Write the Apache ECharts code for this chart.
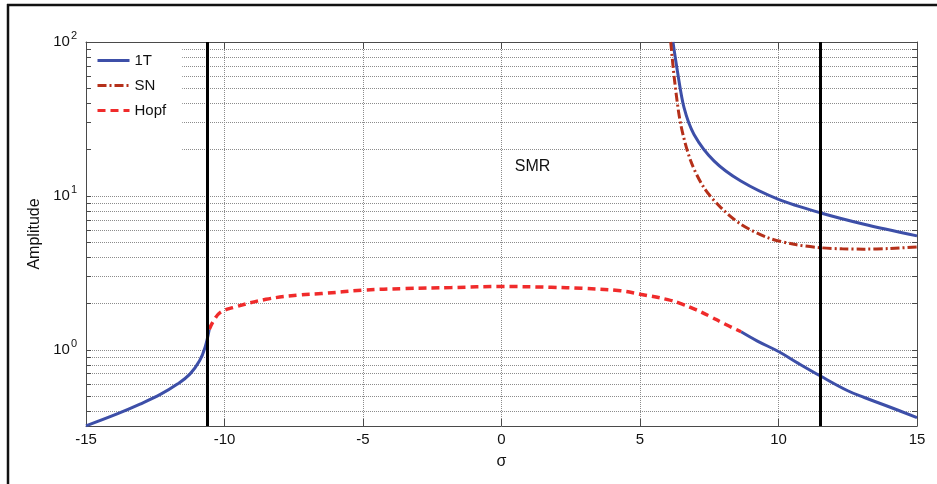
<!DOCTYPE html>
<html><head><meta charset="utf-8">
<script src="https://cdn.jsdelivr.net/npm/echarts@6.0.0/dist/echarts.min.js"></script>
<style>html,body{margin:0;padding:0;background:#fff}#c{width:937px;height:484px}</style>
</head><body><div id="c"></div>
<script>
// ---- data ----
const xMin = -15, xMax = 15, xStep = 5;
const yMin = 0.32, yMax = 100;
const yLabelValues = [1, 10, 100];
const yTickValues = [0.4,0.5,0.6,0.7,0.8,0.9,1,2,3,4,5,6,7,8,9,10,20,30,40,50,60,70,80,90,100];

// 1T (stable single-tone branches)
const t1LeftX  = [-15, -13.9, -13.05, -12.3, -11.7, -11.25, -10.9, -10.7, -10.55];
const t1LeftY  = [0.321, 0.382, 0.444, 0.515, 0.599, 0.695, 0.848, 1.04, 1.36];
const t1RightX = [8.65, 9.24, 10.0, 10.7, 11.5, 12.5, 13.1, 14.06, 15];
const t1RightY = [1.31, 1.14, 0.975, 0.82, 0.678, 0.542, 0.49, 0.422, 0.363];
const t1UpperX = [6.19, 6.35, 6.59, 6.95, 7.67, 8.64, 10.0, 11.5, 13.09, 15];
const t1UpperY = [100, 64.8, 37.4, 25.1, 16.9, 12.5, 9.5, 7.78, 6.55, 5.5];

// SN
const snX = [6.11, 6.25, 6.47, 6.83, 7.31, 7.92, 8.64, 9.6, 10.56, 11.5, 12.3, 13.09, 14, 15];
const snY = [100, 55.8, 29.2, 16.9, 11.3, 8.4, 6.55, 5.36, 4.85, 4.61, 4.53, 4.51, 4.55, 4.66];

// Hopf
const hopfX = [-10.55, -10.4, -10.15, -9.7, -8.5, -7.3, -6.5, -5, -3.5, -1.8, 0, 1.8, 2.9, 4.3, 5.0, 6.0, 6.5, 7.0, 7.5, 8.0, 8.65];
const hopfY = [1.36, 1.54, 1.75, 1.88, 2.13, 2.27, 2.32, 2.44, 2.5, 2.54, 2.58, 2.55, 2.51, 2.42, 2.30, 2.12, 1.99, 1.83, 1.66, 1.49, 1.31];

// vertical boundaries and region annotation
const boundsX = [-10.63, 11.5];
const regionLabel = 'SMR';
const regionAt = [1.12, 15.4];

const legendNames = ['1T', 'SN', 'Hopf'];
// ---------------------------------------

function pairs(xs, ys) { return xs.map((x, i) => [x, ys[i]]); }

const FONT = 'Liberation Sans, Arial, sans-serif';
const axisColor = '#4a4a4a';
const gridLine = { show: true, lineStyle: { type: 'dotted', color: '#8c8c8c', width: 1 } };

const blue = '#3d4fa8', snColor = '#b5301a', hopfColor = '#f02b2b';

const blueStyle = { color: blue, width: 3 };

const chart = echarts.init(document.getElementById('c'), null, { renderer: 'canvas' });

function supFmt(v) {
  const e = Math.round(Math.log10(v));
  return '{b|10}{s|' + e + '}';
}

const option = {
  backgroundColor: '#fff',
  animation: false,
  textStyle: { fontFamily: FONT },
  grid: { left: 86, right: 20, top: 42, bottom: 58 },
  legend: {
    data: legendNames,
    orient: 'vertical',
    left: 92, top: 43,
    padding: [10, 16, 45, 4],
    itemWidth: 32, itemHeight: 14, itemGap: 10,
    backgroundColor: '#fff',
    itemStyle: { color: 'transparent', borderColor: 'transparent', borderWidth: 0, opacity: 0 },
    lineStyle: { width: 3 },
    textStyle: { fontSize: 15, color: '#111', fontFamily: FONT }
  },
  xAxis: [{
    type: 'value', min: xMin, max: xMax, interval: xStep,
    name: 'σ', nameLocation: 'middle', nameGap: 28,
    nameTextStyle: { fontSize: 16, color: '#111', fontFamily: FONT },
    axisLine: { show: true, onZero: false, lineStyle: { color: axisColor } },
    axisTick: { show: true, inside: true, length: 7, lineStyle: { color: axisColor } },
    axisLabel: { fontSize: 15, color: '#111', margin: 6, fontFamily: FONT },
    splitLine: gridLine
  }, {
    type: 'value', min: xMin, max: xMax, interval: xStep, position: 'top',
    axisLine: { show: true, onZero: false, lineStyle: { color: axisColor } },
    axisTick: { show: true, inside: true, length: 7, lineStyle: { color: axisColor } },
    axisLabel: { show: false },
    splitLine: { show: false }
  }],
  yAxis: [{
    type: 'log', logBase: 10, min: yMin, max: yMax,
    name: 'Amplitude', nameLocation: 'middle', nameGap: 35,
    nameTextStyle: { fontSize: 16, color: '#111', fontFamily: FONT },
    axisLine: { show: true, onZero: false, lineStyle: { color: axisColor } },
    axisTick: { show: true, inside: true, length: 5, customValues: yTickValues, lineStyle: { color: axisColor } },
    axisLabel: {
      customValues: yLabelValues, formatter: supFmt, margin: 9,
      rich: {
        b: { fontSize: 15, color: '#111', fontFamily: FONT },
        s: { fontSize: 11, color: '#111', fontFamily: FONT, padding: [0, 0, 12, 1] }
      }
    },
    splitLine: gridLine
  }, {
    type: 'log', logBase: 10, min: yMin, max: yMax, position: 'right',
    axisLine: { show: true, onZero: false, lineStyle: { color: axisColor } },
    axisTick: { show: true, inside: true, length: 5, customValues: yTickValues, lineStyle: { color: axisColor } },
    axisLabel: { show: false },
    splitLine: { show: false }
  }],
  graphic: [
    { type: 'line', shape: { x1: 7, y1: 5, x2: 937, y2: 5 }, style: { stroke: '#111', lineWidth: 2.5 }, silent: true },
    { type: 'line', shape: { x1: 8, y1: 4, x2: 8, y2: 484 }, style: { stroke: '#111', lineWidth: 2.5 }, silent: true }
  ],
  series: [
    { name: '1T', type: 'line', data: pairs(t1LeftX, t1LeftY), symbol: 'none', showSymbol: false, smooth: 0.4, lineStyle: blueStyle, itemStyle: { color: blue }, z: 3 },
    { name: '1T', type: 'line', data: pairs(t1RightX, t1RightY), symbol: 'none', showSymbol: false, smooth: 0.4, lineStyle: blueStyle, itemStyle: { color: blue }, z: 3 },
    { name: '1T', type: 'line', data: pairs(t1UpperX, t1UpperY), symbol: 'none', showSymbol: false, smooth: 0.3, lineStyle: blueStyle, itemStyle: { color: blue }, z: 3 },
    { name: 'SN', type: 'line', data: pairs(snX, snY), symbol: 'none', showSymbol: false, smooth: 0.3,
      lineStyle: { color: snColor, width: 3, type: [9, 3, 2, 3] }, itemStyle: { color: snColor }, z: 3 },
    { name: 'Hopf', type: 'line', data: pairs(hopfX, hopfY), symbol: 'none', showSymbol: false, smooth: 0.4,
      lineStyle: { color: hopfColor, width: 3.5, type: [8, 5] }, itemStyle: { color: hopfColor }, z: 3 },
    { name: 'bounds', type: 'line', data: [], symbol: 'none', z: 4,
      markLine: {
        silent: true, symbol: ['none', 'none'], animation: false,
        label: { show: false },
        lineStyle: { color: '#000', width: 3, type: 'solid' },
        data: boundsX.map(v => ({ xAxis: v }))
      },
      markPoint: {
        silent: true, symbol: 'circle', symbolSize: 0,
        label: { show: true, position: 'inside', formatter: regionLabel, fontSize: 16, color: '#111', fontFamily: FONT },
        data: [{ coord: regionAt }]
      }
    }
  ]
};
chart.setOption(option);
</script>
</body></html>
